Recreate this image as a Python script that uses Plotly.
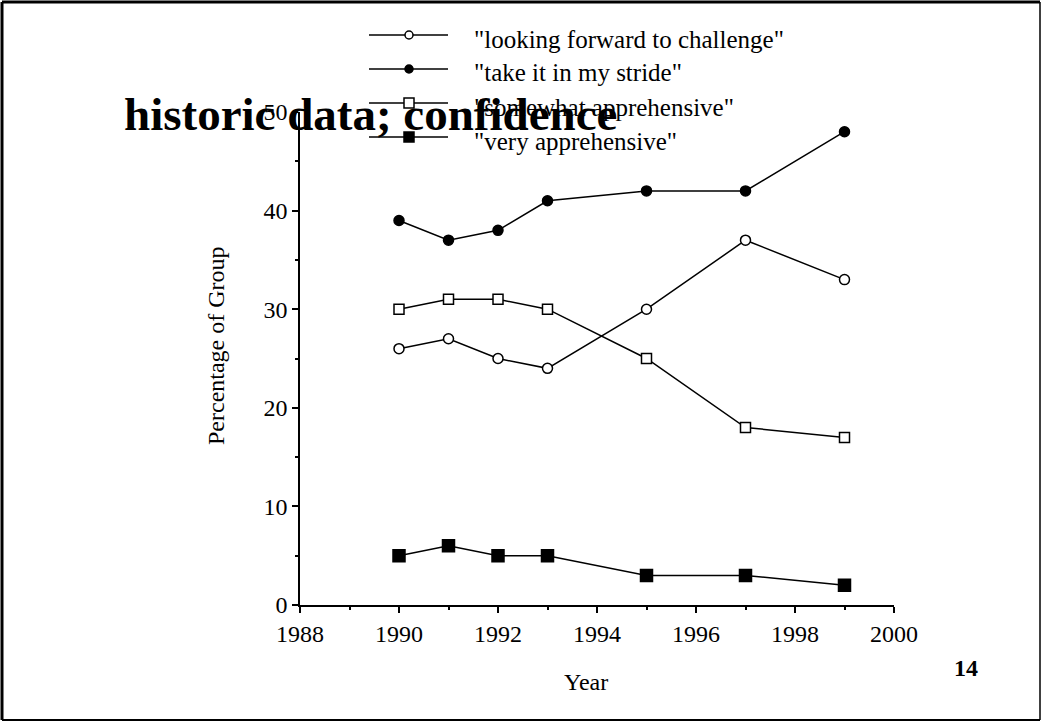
import plotly.graph_objects as go

# ========== DATA ==========
years = [1990, 1991, 1992, 1993, 1995, 1997, 1999]
looking_forward = [26, 27, 25, 24, 30, 37, 33]
in_my_stride = [39, 37, 38, 41, 42, 42, 48]
somewhat_apprehensive = [30, 31, 31, 30, 25, 18, 17]
very_apprehensive = [5, 6, 5, 5, 3, 3, 2]

series_names = ['"looking forward to challenge"', '"take it in my stride"',
                '"somewhat apprehensive"', '"very apprehensive"']
x_ticks = [1988, 1990, 1992, 1994, 1996, 1998, 2000]
y_ticks = [0, 10, 20, 30, 40, 50]

# ========== STYLE ==========
W, H = 1042, 722
L, R, T, B = 300, 894, 112, 605          # plot area in pixels
FONT = "Liberation Serif"
styles = [
    dict(symbol="circle", color="white", size=10),
    dict(symbol="circle", color="black", size=10),
    dict(symbol="square", color="white", size=10),
    dict(symbol="square", color="black", size=12),
]


def px_x(x):
    return (x - L) / (R - L)


def px_y(y):
    return (B - y) / (B - T)


fig = go.Figure()
for name, vals, st in zip(series_names,
                          [looking_forward, in_my_stride, somewhat_apprehensive, very_apprehensive],
                          styles):
    fig.add_trace(go.Scatter(
        x=years, y=vals, name=name, mode="lines+markers",
        line=dict(color="black", width=1.5),
        marker=dict(symbol=st["symbol"], color=st["color"], size=st["size"],
                    line=dict(color="black", width=1.5)),
        showlegend=False,
    ))

# ========== HAND-DRAWN LEGEND ==========
shapes = []
annotations = []
row_y = [35, 69, 103, 137]
for name, st, ry in zip(series_names, styles, row_y):
    shapes.append(dict(type="line", xref="paper", yref="paper",
                       x0=px_x(369), x1=px_x(448), y0=px_y(ry), y1=px_y(ry),
                       line=dict(color="black", width=1.5)))
    r = 4 if st["symbol"] == "circle" else 5
    shapes.append(dict(type="circle" if st["symbol"] == "circle" else "rect",
                       xref="paper", yref="paper",
                       x0=px_x(409 - r), x1=px_x(409 + r), y0=px_y(ry + r), y1=px_y(ry - r),
                       fillcolor=st["color"], line=dict(color="black", width=1.5)))
    annotations.append(dict(text=name, xref="paper", yref="paper",
                            x=px_x(472), y=px_y(ry + 4), xanchor="left", yanchor="middle",
                            showarrow=False, font=dict(family=FONT, size=25, color="black")))

# ========== FRAME ==========
frame = [(2, 2, 1040, 2, 3), (2, 2, 2, 720, 3), (1040, 2, 1040, 720, 1.5), (2, 720, 1040, 720, 2)]
for x0, y0, x1, y1, w in frame:
    shapes.append(dict(type="line", xref="paper", yref="paper",
                       x0=px_x(x0), x1=px_x(x1), y0=px_y(y0), y1=px_y(y1),
                       line=dict(color="black", width=w)))

# ========== TEXT ==========
annotations += [
    dict(text="<b>historic data; confidence</b>", xref="paper", yref="paper",
         x=px_x(122), y=px_y(114), xanchor="left", yanchor="middle", showarrow=False,
         font=dict(family=FONT, size=47, color="black")),
    dict(text="Year", xref="paper", yref="paper", x=px_x(586), y=px_y(682),
         xanchor="center", yanchor="middle", showarrow=False,
         font=dict(family=FONT, size=24, color="black")),
    dict(text="Percentage of Group", xref="paper", yref="paper", x=px_x(216), y=px_y(346),
         xanchor="center", yanchor="middle", textangle=-90, showarrow=False,
         font=dict(family=FONT, size=24, color="black")),
    dict(text="<b>14</b>", xref="paper", yref="paper", x=px_x(966), y=px_y(668),
         xanchor="center", yanchor="middle", showarrow=False,
         font=dict(family=FONT, size=24, color="black")),
]

fig.update_layout(
    width=W, height=H,
    margin=dict(l=L, r=W - R, t=T, b=H - B, pad=0),
    paper_bgcolor="white", plot_bgcolor="white",
    font=dict(family=FONT, size=24, color="black"),
    shapes=shapes, annotations=annotations,
    showlegend=False,
)
fig.update_xaxes(range=[1988, 2000], tickvals=x_ticks, showgrid=False, zeroline=False,
                 showline=True, linecolor="black", linewidth=1.5,
                 ticks="outside", ticklen=6, tickwidth=1.5, tickcolor="black",
                 minor=dict(dtick=1, ticks="outside", ticklen=3, tickwidth=1.5, tickcolor="black"))
fig.update_yaxes(range=[0, 50], tickvals=y_ticks, showgrid=False, zeroline=False,
                 showline=True, linecolor="black", linewidth=1.5,
                 ticks="outside", ticklen=6, tickwidth=1.5, tickcolor="black",
                 minor=dict(dtick=5, ticks="outside", ticklen=3, tickwidth=1.5, tickcolor="black"))

# drop the default 8px body margin so the figure sits at the window's top-left corner
fig.write_html("out.html", config={"displayModeBar": False},
               post_script="document.body.style.margin='0';document.body.style.overflow='hidden';")
